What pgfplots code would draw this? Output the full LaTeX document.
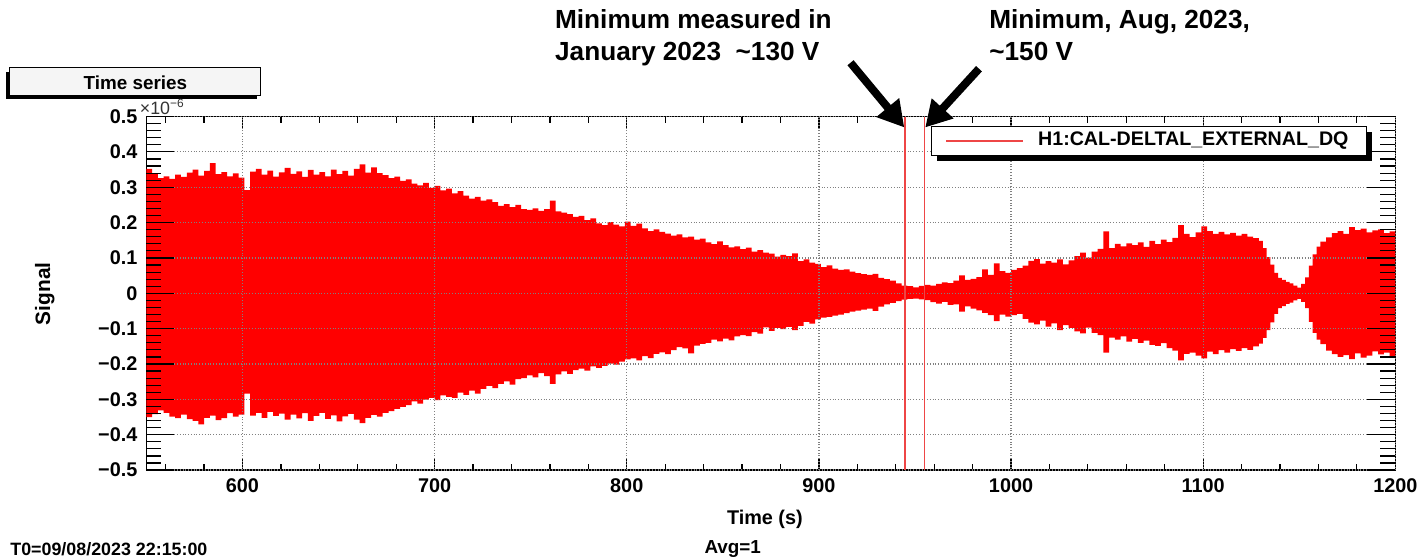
\documentclass[border=0pt]{standalone}
\usepackage{fontspec}
\setmainfont{Liberation Sans}
\usepackage{pgfplots}
\usepackage{pgfplotstable}
\pgfplotsset{compat=1.18}
\usepgfplotslibrary{fillbetween}
\usetikzlibrary{arrows.meta}
\definecolor{vline}{RGB}{238,70,70}
\pgfplotstableread{
x u l
550 0.352 -0.350
553 0.338 -0.342
556 0.326 -0.331
559 0.331 -0.338
562 0.324 -0.349
565 0.336 -0.353
568 0.329 -0.343
571 0.341 -0.356
574 0.350 -0.361
577 0.333 -0.371
580 0.346 -0.352
583 0.368 -0.346
586 0.337 -0.359
589 0.343 -0.353
592 0.331 -0.339
595 0.339 -0.349
598 0.327 -0.343
601 0.292 -0.284
604 0.344 -0.346
607 0.352 -0.338
610 0.336 -0.352
613 0.347 -0.335
616 0.330 -0.347
619 0.342 -0.340
622 0.355 -0.357
625 0.338 -0.343
628 0.345 -0.354
631 0.329 -0.339
634 0.349 -0.361
637 0.336 -0.347
640 0.343 -0.338
643 0.331 -0.355
646 0.350 -0.345
649 0.337 -0.362
652 0.346 -0.348
655 0.333 -0.341
658 0.352 -0.357
661 0.365 -0.367
664 0.341 -0.352
667 0.356 -0.344
670 0.340 -0.349
673 0.334 -0.338
676 0.326 -0.333
679 0.330 -0.327
682 0.318 -0.321
685 0.322 -0.316
688 0.310 -0.306
691 0.305 -0.312
694 0.312 -0.301
697 0.298 -0.296
700 0.304 -0.302
703 0.291 -0.289
706 0.296 -0.293
709 0.283 -0.296
712 0.289 -0.281
715 0.276 -0.287
718 0.268 -0.275
721 0.273 -0.284
724 0.262 -0.270
727 0.266 -0.262
730 0.258 -0.268
733 0.247 -0.256
736 0.252 -0.249
739 0.244 -0.258
742 0.250 -0.243
745 0.238 -0.240
748 0.236 -0.232
751 0.240 -0.238
754 0.233 -0.226
757 0.238 -0.234
760 0.262 -0.256
763 0.232 -0.229
766 0.228 -0.221
769 0.224 -0.228
772 0.216 -0.217
775 0.219 -0.213
778 0.207 -0.219
781 0.212 -0.207
784 0.198 -0.211
787 0.193 -0.205
790 0.201 -0.199
793 0.194 -0.202
796 0.189 -0.193
799 0.203 -0.187
802 0.191 -0.184
805 0.197 -0.190
808 0.184 -0.178
811 0.176 -0.183
814 0.181 -0.171
817 0.174 -0.167
820 0.169 -0.172
823 0.163 -0.161
826 0.167 -0.152
829 0.158 -0.156
832 0.160 -0.170
835 0.152 -0.148
838 0.155 -0.143
841 0.144 -0.140
844 0.139 -0.131
847 0.147 -0.136
850 0.136 -0.128
853 0.130 -0.133
856 0.133 -0.122
859 0.125 -0.118
862 0.129 -0.121
865 0.118 -0.110
868 0.122 -0.114
871 0.115 -0.096
874 0.112 -0.106
877 0.104 -0.098
880 0.109 -0.101
883 0.105 -0.095
886 0.113 -0.104
889 0.091 -0.092
892 0.096 -0.081
895 0.087 -0.086
898 0.083 -0.074
901 0.074 -0.069
904 0.079 -0.067
907 0.070 -0.063
910 0.066 -0.060
913 0.068 -0.056
916 0.061 -0.052
919 0.057 -0.049
922 0.054 -0.046
925 0.052 -0.043
928 0.055 -0.050
931 0.044 -0.038
934 0.040 -0.031
937 0.036 -0.027
940 0.028 -0.022
943 0.022 -0.018
946 0.020 -0.016
949 0.017 -0.015
952 0.021 -0.017
955 0.024 -0.019
958 0.022 -0.025
961 0.027 -0.029
964 0.031 -0.024
967 0.029 -0.033
970 0.036 -0.031
973 0.051 -0.052
976 0.038 -0.037
979 0.041 -0.043
982 0.046 -0.048
985 0.068 -0.055
988 0.052 -0.062
991 0.085 -0.079
994 0.063 -0.060
997 0.058 -0.066
1000 0.066 -0.062
1003 0.071 -0.058
1006 0.078 -0.072
1009 0.092 -0.083
1012 0.097 -0.088
1015 0.084 -0.077
1018 0.091 -0.094
1021 0.087 -0.085
1024 0.096 -0.104
1027 0.082 -0.090
1030 0.093 -0.098
1033 0.105 -0.108
1036 0.115 -0.113
1039 0.101 -0.097
1042 0.118 -0.112
1045 0.126 -0.118
1048 0.175 -0.168
1051 0.128 -0.125
1054 0.140 -0.131
1057 0.133 -0.122
1060 0.141 -0.137
1063 0.136 -0.129
1066 0.144 -0.140
1069 0.131 -0.134
1072 0.148 -0.146
1075 0.139 -0.149
1078 0.152 -0.141
1081 0.145 -0.155
1084 0.157 -0.162
1087 0.193 -0.190
1090 0.168 -0.171
1093 0.159 -0.168
1096 0.172 -0.176
1099 0.189 -0.184
1102 0.176 -0.165
1105 0.168 -0.172
1108 0.174 -0.161
1111 0.167 -0.168
1114 0.171 -0.158
1117 0.163 -0.163
1120 0.168 -0.155
1123 0.160 -0.160
1126 0.156 -0.150
1129 0.148 -0.142
1131 0.128 -0.126
1133 0.102 -0.104
1135 0.081 -0.082
1137 0.058 -0.058
1139 0.044 -0.042
1141 0.038 -0.036
1143 0.032 -0.030
1145 0.028 -0.026
1147 0.022 -0.020
1149 0.016 -0.016
1151 0.027 -0.024
1153 0.045 -0.042
1155 0.078 -0.081
1157 0.110 -0.112
1159 0.132 -0.131
1161 0.146 -0.144
1164 0.158 -0.162
1167 0.170 -0.172
1170 0.176 -0.180
1173 0.168 -0.175
1176 0.187 -0.186
1179 0.179 -0.170
1182 0.183 -0.182
1185 0.172 -0.176
1188 0.178 -0.164
1191 0.181 -0.173
1194 0.170 -0.168
1197 0.175 -0.178
1200 0.172 -0.170
}\env
\begin{document}
\begin{tikzpicture}
% background axis: grid, y ticks and labels
\begin{axis}[
  at={(73.5bp,-236bp)}, anchor=south west,
  scale only axis, width=627bp, height=177.5bp,
  xmin=550, xmax=1200, ymin=-0.5, ymax=0.5,
  axis line style={draw=none},
  xtick={600,700,800,900,1000,1100,1200}, xticklabels={},
  xtick style={draw=none},
  ytick={-0.5,-0.4,-0.3,-0.2,-0.1,0,0.1,0.2,0.3,0.4,0.5},
  yticklabels={−0.5,−0.4,−0.3,−0.2,−0.1,0,0.1,0.2,0.3,0.4,0.5},
  minor ytick={-0.48,-0.46,...,0.48},
  tick align=inside,
  major tick length=14bp, minor tick length=7.5bp,
  ytick style={black, line width=0.6pt},
  minor tick style={black, line width=0.6pt},
  grid=major,
  major grid style={densely dotted, gray, line width=0.6pt},
  yticklabel style={font=\bfseries\fontsize{10}{10}\selectfont, xshift=-1bp},
]
\end{axis}
% data axis
\begin{axis}[
  at={(73.5bp,-236bp)}, anchor=south west,
  scale only axis, width=627bp, height=177.5bp,
  xmin=550, xmax=1200, ymin=-0.5, ymax=0.5,
  axis line style={black, line width=0.8pt},
  xtick={600,700,800,900,1000,1100,1200},
  xticklabels={600,700,800,900,1000,1100,1200},
  minor xtick={560,580,...,1180},
  ytick=\empty,
  tick align=inside,
  major tick length=6bp, minor tick length=3bp,
  tick style={black, line width=0.6pt},
  xticklabel style={font=\bfseries\fontsize{10}{10}\selectfont, yshift=-1bp},
]
\addplot[name path=U, draw=none, const plot] table[x=x, y=u] {\env};
\addplot[name path=L, draw=none, const plot] table[x=x, y=l] {\env};
\addplot[fill=red, draw=none] fill between[of=U and L];
\addplot[vline, line width=0.9pt] coordinates {(945,-0.5) (945,0.5)};
\addplot[vline, line width=0.9pt] coordinates {(955,-0.5) (955,0.5)};
\end{axis}
\begin{scope}[x=0.5bp, y=-0.5bp]
\path[use as bounding box] (0,0) rectangle (1424,561);
% title box
\fill[black] (6,72) rectangle (258,99);
\draw[fill=gray!8, line width=0.5pt] (10,68) rectangle (262,96);
\node[font=\bfseries\fontsize{9.5}{9.5}\selectfont] at (136,83) {Time series};
% exponent
\node[anchor=south west, inner sep=0, font=\fontsize{9}{9}\selectfont, text=black!80] at (140,116) {×10\textsuperscript{−6}};
% legend
\fill[black] (941,133) rectangle (1378,162);
\draw[fill=white, line width=0.6pt] (935,127) rectangle (1372,156);
\draw[vline, line width=0.8pt] (950,141.5) -- (1027,141.5);
\node[anchor=west, inner sep=0, font=\bfseries\fontsize{9.9}{9.9}\selectfont] at (1042,141.5) {H1:CAL-DELTAL\_EXTERNAL\_DQ};
% axis titles
\node[rotate=90, font=\bfseries\fontsize{10.5}{10.5}\selectfont] at (45,295) {Signal};
\node[font=\bfseries\fontsize{10}{10}\selectfont] at (768,521) {Time (s)};
\node[anchor=west, inner sep=0, font=\bfseries\fontsize{9}{9}\selectfont] at (10,551) {T0=09/08/2023 22:15:00};
\node[anchor=west, inner sep=0, font=\bfseries\fontsize{9.5}{9.5}\selectfont] at (707,551) {Avg=1};
% annotations
\node[anchor=north west, inner sep=0, align=left, font=\bfseries\fontsize{13.2}{16}\selectfont] at (557,9) {Minimum measured in\\January 2023\ \ \textasciitilde130 V};
\node[anchor=north west, inner sep=0, align=left, font=\bfseries\fontsize{13.2}{16}\selectfont] at (993,9) {Minimum, Aug, 2023,\\\textasciitilde150 V};
\draw[line width=4bp, -{Triangle[length=13bp, width=14bp]}] (854,63) -- (908,128);
\draw[line width=4bp, -{Triangle[length=13bp, width=14bp]}] (983,69) -- (929,128);
\end{scope}
\end{tikzpicture}
\end{document}
